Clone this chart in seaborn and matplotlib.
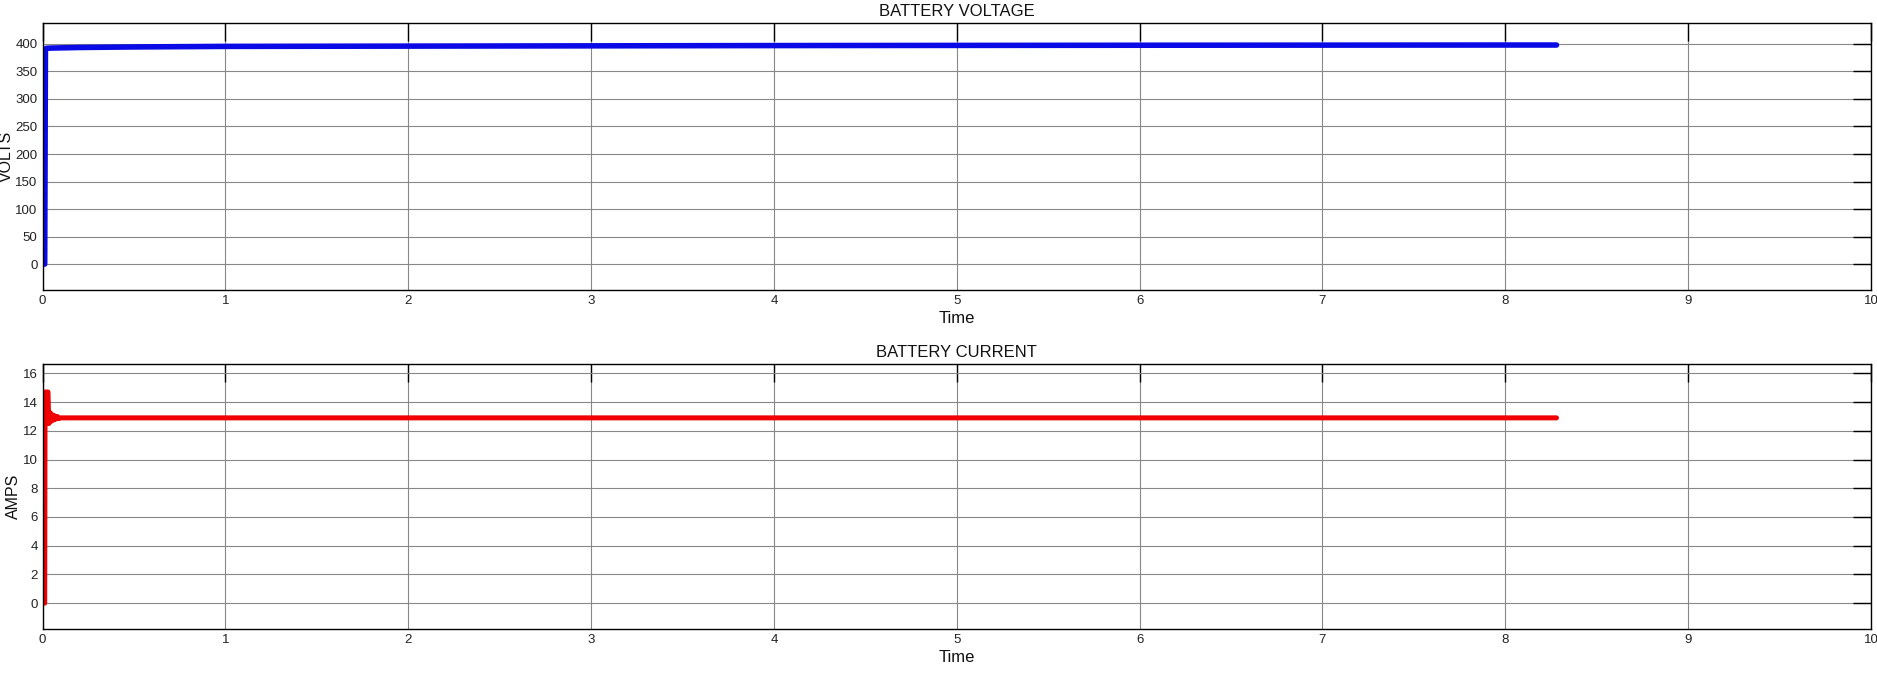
import matplotlib
matplotlib.use("Agg")
import matplotlib.pyplot as plt
import seaborn as sns
import pandas as pd

# ---- data ----
v_time = [0.0, 0.012, 0.016, 0.02, 0.05, 0.2, 0.5, 1.0, 2.0, 3.0, 4.0, 5.0, 6.0, 7.0, 8.0, 8.28]
v_volts = [0.0, 0.0, 390.0, 392.0, 392.5, 393.5, 394.5, 395.5, 396.0, 396.5, 397.0, 397.3, 397.6, 397.8, 398.0, 398.0]

i_time = [0.0, 0.012, 0.014, 0.02, 0.03, 0.034, 0.038, 0.042, 0.046, 0.05, 0.055, 0.06, 0.065,
          0.07, 0.08, 0.09, 0.1, 0.5, 1.0, 2.0, 3.0, 4.0, 5.0, 6.0, 7.0, 8.0, 8.28]
i_amps = [0.0, 0.0, 14.7, 14.7, 14.7, 12.5, 13.3, 12.6, 13.2, 12.7, 13.1, 12.75, 13.05,
          12.8, 13.0, 12.85, 12.9, 12.9, 12.9, 12.9, 12.9, 12.9, 12.9, 12.9, 12.9, 12.9, 12.9]

x_ticks = [0, 1, 2, 3, 4, 5, 6, 7, 8, 9, 10]
v_ticks = [0, 50, 100, 150, 200, 250, 300, 350, 400]
i_ticks = [0, 2, 4, 6, 8, 10, 12, 14, 16]

sns.set_theme(style="white")
plt.rcParams['font.family'] = ['Liberation Sans', 'DejaVu Sans']

W, H = 1877, 676
fig = plt.figure(figsize=(W / 100, H / 100), dpi=100)

def axes_px(x0, y0, x1, y1):
    return fig.add_axes([x0 / W, 1 - y1 / H, (x1 - x0) / W, (y1 - y0) / H])

ax1 = axes_px(42.5, 23, 1871, 290)
ax2 = axes_px(42.5, 364, 1871, 629)

dv = pd.DataFrame({"Time": v_time, "VOLTS": v_volts})
di = pd.DataFrame({"Time": i_time, "AMPS": i_amps})

sns.lineplot(data=dv, x="Time", y="VOLTS", ax=ax1, color="#0a0ae6", linewidth=4.0,
             sort=False, estimator=None)
sns.lineplot(data=di, x="Time", y="AMPS", ax=ax2, color="#f00000", linewidth=3.6,
             sort=False, estimator=None)

def style(ax, yticks, ylim, title, ylabel, ylab_x):
    ax.set_xlim(0, 10)
    ax.set_ylim(*ylim)
    ax.set_xticks(x_ticks)
    ax.set_yticks(yticks)
    ax.set_xticklabels([str(t) for t in x_ticks])
    ax.set_yticklabels([str(t) for t in yticks])
    ax.grid(True, color="#888888", linewidth=0.8)
    ax.set_axisbelow(True)
    ax.tick_params(axis="both", direction="in", length=13, width=1.0, color="black",
                   top=True, right=True, labelsize=9.5, labelcolor="#222222", pad=3.5)
    for s in ax.spines.values():
        s.set_visible(True)
        s.set_color("black")
        s.set_linewidth(1.0)
    ax.set_title(title, fontsize=12, pad=5, color="#111111")
    ax.set_xlabel("Time", fontsize=12, labelpad=3, color="#111111")
    ax.set_ylabel(ylabel, fontsize=11.5, color="#111111")
    ax.yaxis.set_label_coords(ylab_x, 0.5)

style(ax1, v_ticks, (-47, 438), "BATTERY VOLTAGE", "VOLTS", (13.5 - 42.5) / 1828.5)
style(ax2, i_ticks, (-1.8, 16.65), "BATTERY CURRENT", "AMPS", (21 - 42.5) / 1828.5)

fig.savefig("out.png", dpi=100, facecolor="white")
